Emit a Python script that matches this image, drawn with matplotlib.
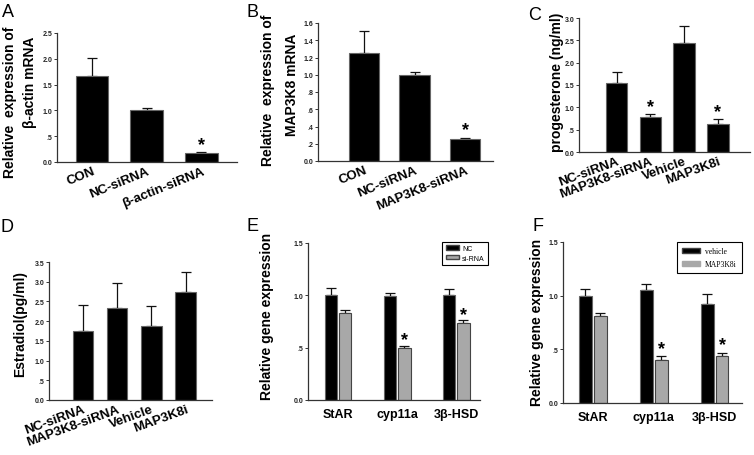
import matplotlib
matplotlib.use('Agg')
import matplotlib.pyplot as plt
from matplotlib.patches import Patch
from matplotlib.ticker import FuncFormatter
import numpy as np

plt.rcParams['font.family'] = ['Liberation Sans', 'DejaVu Sans']

W, H = 754, 456

# panel A
a_labels = ['CON', 'NC-siRNA', 'β-actin-siRNA']
a_vals = [1.66, 1.00, 0.18]
a_err = [0.36, 0.05, 0.02]
a_star = [2]

# panel B
b_labels = ['CON', 'NC-siRNA', 'MAP3K8-siRNA']
b_vals = [1.25, 1.00, 0.25]
b_err = [0.26, 0.03, 0.02]
b_star = [2]

# panel C
c_labels = ['NC-siRNA', 'MAP3K8-siRNA', 'Vehicle', 'MAP3K8i']
c_vals = [1.55, 0.78, 2.45, 0.62]
c_err = [0.25, 0.07, 0.37, 0.11]
c_star = [1, 3]

# panel D
d_labels = ['NC-siRNA', 'MAP3K8-siRNA', 'Vehicle', 'MAP3K8i']
d_vals = [1.75, 2.33, 1.88, 2.74]
d_err = [0.66, 0.65, 0.51, 0.51]

# panel E
genes = ['StAR', 'cyp11a', '3β-HSD']
e_nc = [1.00, 0.99, 1.00]
e_nc_err = [0.07, 0.03, 0.06]
e_si = [0.83, 0.50, 0.74]
e_si_err = [0.03, 0.02, 0.02]
e_star = [1, 2]

# panel F
f_veh = [1.00, 1.05, 0.92]
f_veh_err = [0.06, 0.06, 0.10]
f_map = [0.81, 0.40, 0.44]
f_map_err = [0.03, 0.04, 0.03]
f_star = [1, 2]


def fx(x):
    return x / W


def fy(y):
    return 1 - y / H


def tick_fmt(v, pos):
    s = '%.1f' % v
    if 0 < v < 1:
        s = s[1:]
    return s


def make_axes(fig, left, right, bottom, top):
    ax = fig.add_axes([fx(left), fy(bottom), fx(right - left), (bottom - top) / H])
    for s in ['top', 'right']:
        ax.spines[s].set_visible(False)
    for s in ['left', 'bottom']:
        ax.spines[s].set_linewidth(0.9)
        ax.spines[s].set_color('#333333')
    ax.tick_params(axis='y', length=2, width=0.7, pad=1.5, labelsize=5, colors='#333333')
    ax.tick_params(axis='x', length=0, pad=2)
    ax.yaxis.set_major_formatter(FuncFormatter(tick_fmt))
    return ax


def style_yticks(ax):
    for t in ax.get_yticklabels():
        t.set_fontweight('bold')
        t.set_color('#222222')


def bars(ax, x, vals, err, color, width, edge):
    ax.bar(x, vals, width=width, color=color, edgecolor=edge, linewidth=0.8, zorder=2)
    ax.errorbar(x, vals, yerr=[np.zeros(len(vals)), err], fmt='none', ecolor='#111111',
                elinewidth=0.9, capsize=3.5, capthick=0.9, zorder=1)


def stars(ax, x, vals, err, idx, dy):
    for i in idx:
        ax.text(x[i], vals[i] + err[i] + dy, '*', ha='center', va='center',
                fontsize=13, fontweight='bold')


def rot_labels(ax, labels, size=9.5, rot=22):
    ax.set_xticks(np.arange(len(labels)))
    ax.set_xticklabels(labels, rotation=rot, ha='right', rotation_mode='anchor',
                       fontsize=size, fontweight='bold')


def main():
    fig = plt.figure(figsize=(W / 100, H / 100), dpi=100)

    # A
    ax = make_axes(fig, 57, 237, 163, 34)
    x = np.arange(len(a_vals))
    bars(ax, x, a_vals, a_err, 'black', 0.6, '#666666')
    stars(ax, x, a_vals, a_err, a_star, 0.14)
    ax.set_xlim(-0.64, 2.65)
    ax.set_ylim(0, 2.5)
    ax.set_yticks(np.arange(0, 2.51, 0.5))
    style_yticks(ax)
    rot_labels(ax, a_labels, 9.5, 22)
    fig.text(fx(10), fy(102), 'Relative  expression of', rotation=90, ha='center',
             va='center', fontsize=10, fontweight='bold')
    fig.text(fx(30), fy(82), 'β-actin mRNA', rotation=90, ha='center',
             va='center', fontsize=10, fontweight='bold')

    # B
    ax = make_axes(fig, 318, 493, 162, 24)
    x = np.arange(len(b_vals))
    bars(ax, x, b_vals, b_err, 'black', 0.6, '#666666')
    stars(ax, x, b_vals, b_err, b_star, 0.09)
    ax.set_xlim(-0.91, 2.55)
    ax.set_ylim(0, 1.6)
    ax.set_yticks(np.arange(0, 1.61, 0.2))
    style_yticks(ax)
    rot_labels(ax, b_labels, 9.5, 22)
    fig.text(fx(268), fy(90), 'Relative  expression of', rotation=90, ha='center',
             va='center', fontsize=10, fontweight='bold')
    fig.text(fx(292), fy(85), 'MAP3K8 mRNA', rotation=90, ha='center',
             va='center', fontsize=10, fontweight='bold')

    # C
    ax = make_axes(fig, 579, 750, 153, 19)
    x = np.arange(len(c_vals))
    bars(ax, x, c_vals, c_err, 'black', 0.63, '#666666')
    stars(ax, x, c_vals, c_err, c_star, 0.17)
    ax.set_xlim(-1.11, 3.95)
    ax.set_ylim(0, 3.0)
    ax.set_yticks(np.arange(0, 3.01, 0.5))
    style_yticks(ax)
    rot_labels(ax, c_labels, 9.5, 20)
    fig.text(fx(557), fy(82), 'progesterone (ng/ml)', rotation=90, ha='center',
             va='center', fontsize=10, fontweight='bold')

    # D
    ax = make_axes(fig, 49, 212, 401, 263)
    x = np.arange(len(d_vals))
    bars(ax, x, d_vals, d_err, 'black', 0.6, '#666666')
    ax.set_xlim(-0.99, 3.77)
    ax.set_ylim(0, 3.5)
    ax.set_yticks(np.arange(0, 3.51, 0.5))
    style_yticks(ax)
    rot_labels(ax, d_labels, 9.5, 20)
    fig.text(fx(20), fy(324), 'Estradiol(pg/ml)', rotation=90, ha='center',
             va='center', fontsize=10, fontweight='bold')

    # E
    ax = make_axes(fig, 308, 480, 401, 244)
    x = np.arange(len(genes))
    bars(ax, x - 0.12, e_nc, e_nc_err, 'black', 0.21, '#666666')
    bars(ax, x + 0.12, e_si, e_si_err, '#a8a8a8', 0.21, '#444444')
    stars(ax, x + 0.12, e_si, e_si_err, e_star, 0.06)
    ax.set_xlim(-0.51, 2.4)
    ax.set_ylim(0, 1.5)
    ax.set_yticks(np.arange(0, 1.51, 0.5))
    style_yticks(ax)
    ax.set_xticks(x)
    ax.set_xticklabels(genes, fontsize=9, fontweight='bold')
    ax.tick_params(axis='x', pad=6)
    handles = [Patch(facecolor='black', edgecolor='#444444', label='NC'),
               Patch(facecolor='#a8a8a8', edgecolor='#444444', label='si-RNA')]
    leg = ax.legend(handles=handles, loc='upper right', bbox_to_anchor=(fx(488), fy(243)),
                    bbox_transform=fig.transFigure, borderaxespad=0, fontsize=5,
                    fancybox=False, edgecolor='black', framealpha=1, handlelength=2.0,
                    handleheight=0.6, labelspacing=0.35, borderpad=0.45, handletextpad=0.4)
    leg.get_frame().set_linewidth(0.8)
    fig.text(fx(267), fy(316), 'Relative gene expression', rotation=90, ha='center',
             va='center', fontsize=10, fontweight='bold')

    # F
    ax = make_axes(fig, 563, 742, 404, 243)
    bars(ax, x - 0.123, f_veh, f_veh_err, 'black', 0.21, '#666666')
    bars(ax, x + 0.123, f_map, f_map_err, '#a8a8a8', 0.21, '#444444')
    stars(ax, x + 0.123, f_map, f_map_err, f_star, 0.07)
    ax.set_xlim(-0.49, 2.45)
    ax.set_ylim(0, 1.5)
    ax.set_yticks(np.arange(0, 1.51, 0.5))
    style_yticks(ax)
    ax.set_xticks(x)
    ax.set_xticklabels(genes, fontsize=9, fontweight='bold')
    ax.tick_params(axis='x', pad=6)
    handles = [Patch(facecolor='black', edgecolor='#444444', label='vehicle'),
               Patch(facecolor='#a8a8a8', edgecolor='#a8a8a8', label='MAP3K8i')]
    leg = ax.legend(handles=handles, loc='upper right', bbox_to_anchor=(fx(742), fy(243)),
                    bbox_transform=fig.transFigure, borderaxespad=0,
                    prop={'family': 'Liberation Serif', 'size': 5.5},
                    fancybox=False, edgecolor='black', framealpha=1, handlelength=2.4,
                    handleheight=0.6, labelspacing=0.6, borderpad=0.7, handletextpad=0.6)
    leg.get_frame().set_linewidth(0.8)
    fig.text(fx(537), fy(322), 'Relative gene expression', rotation=90, ha='center',
             va='center', fontsize=10, fontweight='bold')

    # panel letters
    for letter, px, py in [('A', 2, 4), ('B', 247, 4), ('C', 528, 7),
                           ('D', 1, 219), ('E', 246, 218), ('F', 532, 218)]:
        fig.text(fx(px), fy(py), letter, ha='left', va='top', fontsize=13)

    fig.savefig('out.png', dpi=100)


if __name__ == '__main__':
    main()
